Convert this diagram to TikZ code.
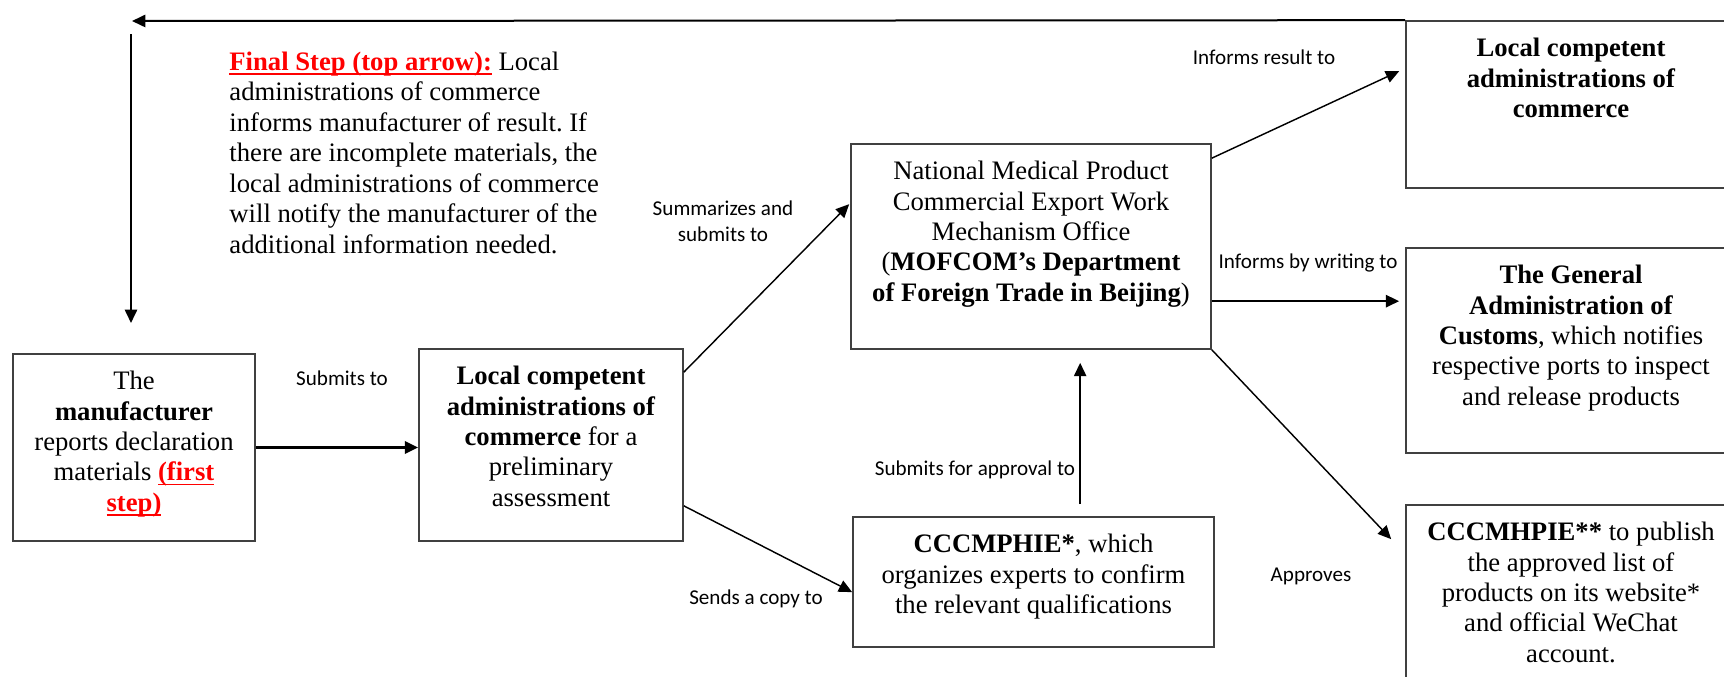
\documentclass[tikz,border=0pt]{standalone}
\usepackage{fontspec}
\setmainfont{Liberation Serif}
\newfontfamily\labfont{Carlito}
\usetikzlibrary{arrows.meta,calc}
\newcommand{\redu}[1]{{\color{red}\bfseries\setbox0\hbox{#1}\rlap{\rule[-2pt]{\wd0}{0.8pt}}\box0}}
\frenchspacing
\begin{document}
\begin{tikzpicture}[x=0.45pt,y=-0.45pt,
  box/.style={draw=black!75, line width=0.75pt, rectangle, inner sep=0pt},
  txt/.style={font=\fontsize{12}{13.7}\selectfont\frenchspacing, align=center, inner sep=0pt, anchor=north},
  lab/.style={font=\labfont\fontsize{9.5}{11.5}\selectfont, inner sep=0pt, align=center},
  arr/.style={line width=0.65pt, -{Triangle[length=6pt,width=5.5pt]}},
]
\useasboundingbox (0,0) rectangle (1724,677);
\clip (0,0) rectangle (1724,677);

% boxes
\node[box, minimum width=108.9pt, minimum height=84.15pt] (m) at (134,447.5) {};
\node[box, minimum width=118.8pt, minimum height=86.4pt] (l) at (551,445) {};
\node[box, minimum width=162pt, minimum height=92.25pt] (n) at (1031,246.5) {};
\node[box, minimum width=162.45pt, minimum height=58.5pt] (c) at (1033.5,582) {};
\node[box, minimum width=148.5pt, minimum height=75.15pt] (r1) at (1571,104.5) {};
\node[box, minimum width=148.5pt, minimum height=92.25pt] (r2) at (1571,350.5) {};
\node[box, minimum width=148.5pt, minimum height=96.75pt] (r3) at (1571,612.5) {};

% box texts
\node[txt] (mt) at ($(m.north)+(0,14.7)$) {\strut The\\ \textbf{manufacturer}\\ reports declaration\\ materials \redu{(first}\\ \redu{step)}};
\node[txt] (lt) at ($(l.north)+(0,14.7)$) {\strut\textbf{Local competent}\\ \textbf{administrations of}\\ \textbf{commerce} for a\\ preliminary\\ assessment};
\node[txt] (nt) at ($(n.north)+(0,14.7)$) {\strut National Medical Product\\ Commercial Export Work\\ Mechanism Office\\ (\textbf{MOFCOM’s Department}\\ \textbf{of Foreign Trade in Beijing})};
\node[txt] (ct) at ($(c.north)+(0,14.7)$) {\strut\textbf{CCCMPHIE*}, which\\ organizes experts to confirm\\ the relevant qualifications};
\node[txt] (r1t) at ($(r1.north)+(0,14.7)$) {\strut\textbf{Local competent}\\ \textbf{administrations of}\\ \textbf{commerce}};
\node[txt] (r2t) at ($(r2.north)+(0,14.7)$) {\strut\textbf{The General}\\ \textbf{Administration of}\\ \textbf{Customs}, which notifies\\ respective ports to inspect\\ and release products};
\node[txt] (r3t) at ($(r3.north)+(0,14.7)$) {\strut\textbf{CCCMHPIE**} to publish\\ the approved list of\\ products on its website*\\ and official WeChat\\ account.};

% final step note
\node[txt, anchor=north west, align=left] (fs) at (229,48.7) {\strut\redu{Final Step (top arrow):} Local\\ administrations of commerce\\ informs manufacturer of result. If\\ there are incomplete materials, the\\ local administrations of commerce\\ will notify the manufacturer of the\\ additional information needed.};

% free ends
\coordinate (tl) at (132,21);
\coordinate (vt) at (131,34);
\coordinate (vb) at (131,323);

% connectors
\draw[arr, line width=0.9pt] (r1.north west) -- (tl);
\draw[arr, line width=0.9pt] (vt) -- (vb);
\draw[arr, line width=1.2pt] (m.east) -- (m.east -| l.west);
\draw[arr] ($(l.north east)+(0,24)$) -- ($(n.north west)+(-1,61)$);
\draw[arr] ($(l.south east)+(0,-36)$) -- ($(c.north west)+(0,76)$);
\draw[arr, line width=0.8pt] ($(c.north west)+(228,-12)$) -- ($(n.south west)+(230,13)$);
\draw[arr] ($(n.north east)+(0,15)$) -- ($(r1.north west)+(-6,51)$);
\draw[arr, line width=1pt] ($(n.north east)+(0,158)$) -- ($(r2.north west)+(-6,54)$);
\draw[arr] (n.south east) -- ($(r3.north west)+(-14,35)$);

% labels
\node[lab] (l1) at (342,378) {Submits to};
\node[lab] (l2) at (723,221) {Summarizes and\\submits to};
\node[lab] (l3) at (756,599) {Sends a copy to};
\node[lab] (l4) at (975,470) {Submits for approval to};
\node[lab] (l5) at (1264,57) {Informs result to};
\node[lab] (l6) at (1308,263) {Informs by writing to};
\node[lab] (l7) at (1311,576) {Approves};
\end{tikzpicture}
\end{document}
